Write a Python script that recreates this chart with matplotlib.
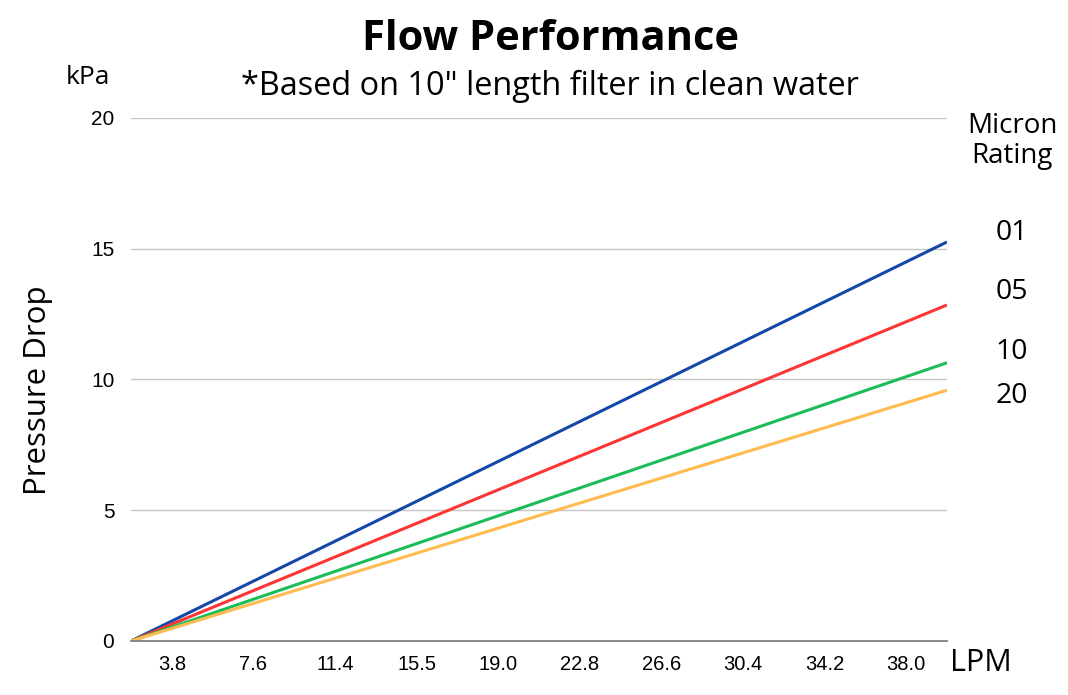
import matplotlib

matplotlib.use("Agg")
import matplotlib.pyplot as plt  # noqa: E402

# flow categories on the x axis (LPM)
flow_labels = ["3.8", "7.6", "11.4", "15.5", "19.0", "22.8", "26.6", "30.4", "34.2", "38.0"]

# micron ratings and the pressure drop (kPa) at start / end of the flow range
ratings = ["01", "05", "10", "20"]
drop_start = [0.0, 0.0, 0.0, 0.0]
drop_end = [15.26, 12.85, 10.64, 9.59]
colors = ["#1448a8", "#fe3535", "#1cbc58", "#ffbb4f"]

y_ticks = [0, 5, 10, 15, 20]

W, H = 1068, 695
fig = plt.figure(figsize=(W / 100, H / 100), dpi=100)
ax = fig.add_axes([131 / W, 1 - 641 / H, 816 / W, 523 / H])

n = len(flow_labels)
for y0, y1, c in zip(drop_start, drop_end, colors):
    ax.plot([0, n], [y0, y1], color=c, lw=2.2, solid_capstyle="butt")

ax.set_xlim(0, n)
ax.set_ylim(0, 20)
ax.set_xticks([i + 0.5 for i in range(n)])
ax.set_xticklabels(flow_labels, family="Liberation Sans", fontsize=14.5)
ax.set_yticks(y_ticks)
ax.set_yticklabels([str(v) for v in y_ticks], family="Liberation Sans", fontsize=15)
ax.tick_params(axis="both", length=0)
ax.tick_params(axis="x", pad=10)
ax.tick_params(axis="y", pad=12)

ax.grid(axis="y", color="#c6c6c6", lw=1)
ax.set_axisbelow(True)
for s in ("top", "right", "left"):
    ax.spines[s].set_visible(False)
ax.spines["bottom"].set_color("#808080")
ax.spines["bottom"].set_linewidth(1.3)

txt = dict(family="Open Sans", color="black")
fig.text(550 / W, 1 - 39 / H, "Flow Performance", ha="center", va="center",
         fontsize=30, fontweight="bold", **txt)
fig.text(550 / W, 1 - 86 / H, '*Based on 10" length filter in clean water', ha="center", va="center",
         fontsize=23.4, **txt)
fig.text(88 / W, 1 - 78 / H, "kPa", ha="center", va="center", fontsize=19, **txt)
fig.text(38 / W, 1 - 390 / H, "Pressure Drop", ha="center", va="center", rotation=90,
         fontsize=22.5, **txt)
fig.text(981 / W, 1 - 663 / H, "LPM", ha="center", va="center", fontsize=22, **txt)
fig.text(1012 / W, 1 - 141 / H, "Micron\nRating", ha="center", va="center", fontsize=20,
         linespacing=1.05, **txt)

label_y = [233, 292, 352, 396]
for name, ly in zip(ratings, label_y):
    fig.text(1012 / W, 1 - ly / H, name, ha="center", va="center", fontsize=20.5, **txt)

fig.savefig("out.png", dpi=100)
